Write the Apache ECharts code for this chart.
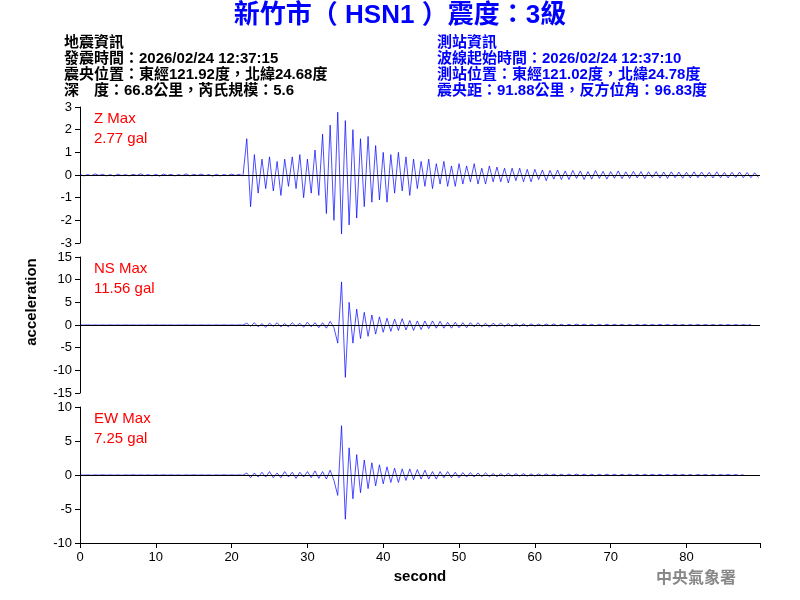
<!DOCTYPE html>
<html><head><meta charset="utf-8">
<script src="https://cdn.jsdelivr.net/npm/echarts@6/dist/echarts.min.js"></script>
<style>html,body{margin:0;background:#fff}#c{width:800px;height:600px}</style>
</head><body><div id="c"></div>
<script>
// sample step in seconds
var step = 0.5;

// Z component (gal), one value per 0.5 s
var zVals = [0.03,-0.04,0.02,-0.03,0.05,-0.02,0.03,-0.04,0.02,-0.05,0.04,-0.03,0.02,-0.04,0.03,-0.02,0.05,-0.03,0.02,-0.04,0.03,-0.05,0.04,-0.02,0.03,-0.04,0.02,-0.03,0.05,-0.04,0.03,-0.02,0.04,-0.03,0.02,-0.05,0.03,-0.04,0.02,-0.03,0.04,-0.02,0.03,-0.04,
  1.6,-1.4,0.9,-0.8,0.7,-0.6,0.8,-0.7,0.6,-0.9,0.7,-0.5,0.8,-0.6,0.9,-1.0,0.7,-0.8,1.1,-0.9,
  1.8,-1.7,2.2,-2.0,2.77,-2.6,2.4,-2.2,2.0,-1.9,
  1.6,-1.4,1.7,-1.2,1.3,-1.1,1.0,-1.2,0.9,-0.8,1.0,-0.7,0.8,-0.9,0.7,-0.6,
  0.6,-0.5,0.7,-0.6,0.5,-0.4,0.6,-0.5,0.4,-0.5,0.5,-0.4,0.4,-0.3,0.5,-0.4,0.3,-0.4,0.4,-0.3,0.35,-0.3,0.3,-0.35,0.3,-0.25,0.3,-0.3,0.25,-0.3,
  0.25,-0.2,0.22,-0.25,0.2,-0.18,0.22,-0.2,0.18,-0.2,0.2,-0.15,0.18,-0.2,0.15,-0.18,0.2,-0.15,0.16,-0.18,0.15,-0.14,0.18,-0.16,0.14,-0.15,0.16,-0.13,0.15,-0.16,0.14,-0.12,0.15,-0.14,0.13,-0.15,0.14,-0.12,0.13,-0.14,0.12,-0.13,0.14,-0.12,0.13,-0.11,0.12,-0.13,0.14,-0.12,0.11,-0.13,0.12,-0.11,0.13,-0.12,0.11,-0.12,0.1,-0.11];

// NS component
var nsVals = [0.02,-0.02,0.03,-0.02,0.02,-0.03,0.02,-0.02,0.03,-0.02,0.02,-0.02,0.03,-0.02,0.02,-0.03,0.02,-0.02,0.03,-0.02,0.02,-0.02,0.03,-0.02,0.02,-0.03,0.02,-0.02,0.03,-0.02,0.02,-0.02,0.03,-0.02,0.02,-0.03,0.02,-0.02,0.03,-0.02,0.02,-0.02,0.03,-0.02,
  0.4,-0.3,0.5,-0.4,0.3,-0.5,0.4,-0.3,0.5,-0.4,0.3,-0.4,0.5,-0.3,0.4,-0.5,0.6,-0.4,0.5,-0.6,0.5,-0.7,0.8,-0.6,
  -4.0,9.5,-11.56,5.0,
  -4.0,3.5,-3.0,2.8,-2.5,2.2,-2.0,1.8,
  -1.6,1.5,-1.4,1.3,-1.2,1.4,-1.1,1.0,-1.2,0.9,-1.0,0.9,-0.8,0.9,-0.7,0.8,-0.7,0.6,-0.7,0.6,
  -0.6,0.5,-0.6,0.5,-0.4,0.5,-0.4,0.4,-0.5,0.4,-0.3,0.4,-0.35,0.3,-0.35,0.3,-0.3,0.25,-0.3,0.25,
  -0.25,0.2,-0.22,0.2,-0.18,0.22,-0.2,0.18,-0.2,0.16,-0.18,0.2,-0.15,0.18,-0.16,0.15,-0.18,0.14,-0.15,0.16,-0.14,0.15,-0.13,0.14,-0.15,0.12,-0.14,0.13,-0.12,0.14,-0.13,0.12,-0.11,0.13,-0.12,0.11,-0.13,0.12,-0.1,0.11,-0.12,0.1,-0.11,0.12,-0.1,0.11,-0.1,0.09,-0.11,0.1,-0.09,0.1,-0.11,0.09,-0.1,0.09,-0.08,0.1];

// EW component
var ewVals = [0.02,-0.02,0.02,-0.03,0.02,-0.02,0.03,-0.02,0.02,-0.02,0.02,-0.03,0.02,-0.02,0.03,-0.02,0.02,-0.02,0.02,-0.03,0.02,-0.02,0.03,-0.02,0.02,-0.02,0.02,-0.03,0.02,-0.02,0.03,-0.02,0.02,-0.02,0.02,-0.03,0.02,-0.02,0.03,-0.02,0.02,-0.02,0.02,-0.03,
  0.3,-0.4,0.3,-0.3,0.4,-0.3,0.5,-0.4,0.3,-0.4,0.5,-0.3,0.4,-0.5,0.4,-0.3,0.5,-0.4,0.6,-0.5,0.5,-0.6,0.7,-0.8,-3.0,
  7.25,-6.5,4.0,
  -3.5,3.0,-2.6,2.2,-2.0,1.8,-1.6,1.5,
  -1.3,1.2,-1.1,1.0,-1.1,0.9,-0.8,0.9,-0.7,0.8,-0.6,0.7,-0.6,0.5,-0.6,0.5,-0.4,0.5,-0.4,0.4,
  -0.4,0.35,-0.3,0.35,-0.3,0.3,-0.25,0.3,-0.25,0.2,-0.25,0.2,-0.2,0.25,-0.2,0.2,-0.18,0.2,-0.18,0.15,
  -0.16,0.15,-0.14,0.16,-0.13,0.14,-0.15,0.12,-0.14,0.13,-0.12,0.14,-0.11,0.12,-0.13,0.11,-0.12,0.1,-0.11,0.12,-0.1,0.11,-0.12,0.1,-0.09,0.11,-0.1,0.09,-0.11,0.1,-0.09,0.1,-0.08,0.09,-0.1,0.08,-0.09,0.1,-0.08,0.09,-0.08,0.07,-0.09,0.08,-0.07,0.08,-0.09,0.07,-0.08,0.07,-0.06,0.08,-0.07,0.06,-0.08,0.07];

var labels = ['Z Max', 'NS Max', 'EW Max'];
var maxText = ['2.77 gal', '11.56 gal', '7.25 gal'];
var yLimits = [3, 15, 10];
var yIntervals = [1, 5, 5];

function toPairs(vals) {
  return vals.map(function (v, i) { return [i * step, v]; });
}

var chart = echarts.init(document.getElementById('c'));
var font = 'Arial, "Noto Sans CJK TC", sans-serif';
var tops = [107, 257, 407];
var allVals = [zVals, nsVals, ewVals];

var grids = [], xAxes = [], yAxes = [], series = [];
for (var k = 0; k < 3; k++) {
  grids.push({ left: 80, right: 40, top: tops[k], height: 136 });
  var last = k === 2;
  xAxes.push({
    type: 'value', gridIndex: k, min: 0, max: 89.7, interval: 10,
    axisLine: { show: last, onZero: false, lineStyle: { color: '#000' } },
    axisTick: { show: last, lineStyle: { color: '#000' } },
    axisLabel: { show: last, color: '#000', fontSize: 13, fontFamily: 'Arial',
      formatter: function (v) { return v > 85 ? '' : v; } },
    splitLine: { show: false },
    name: last ? 'second' : '', nameLocation: 'middle', nameGap: 26,
    nameTextStyle: { color: '#000', fontSize: 15, fontWeight: 'bold', fontFamily: 'Arial' }
  });
  yAxes.push({
    type: 'value', gridIndex: k, min: -yLimits[k], max: yLimits[k], interval: yIntervals[k],
    axisLine: { show: true, onZero: false, lineStyle: { color: '#000' } },
    axisTick: { show: true, lineStyle: { color: '#000' } },
    axisLabel: { color: '#000', fontSize: 13, fontFamily: 'Arial' },
    splitLine: { show: false }
  });
  series.push({
    type: 'line', xAxisIndex: k, yAxisIndex: k, data: toPairs(allVals[k]),
    showSymbol: false, lineStyle: { color: '#0000ff', width: 0.7 }, z: 3,
    markLine: { silent: true, symbol: 'none', label: { show: false },
      lineStyle: { color: '#000', type: 'solid', width: 1 }, data: [{ yAxis: 0 }] }
  });
}

var infoStyle = { fontSize: 15, fontWeight: 'bold', fontFamily: font, lineHeight: 16 };
var graphic = [
  { type: 'text', left: 'center', top: 3, style: { text: '新竹市（ HSN1 ）震度：3級', fill: '#0000ff', fontSize: 26, fontWeight: 'bold', fontFamily: font } },
  { type: 'text', left: 64, top: 35, style: Object.assign({ fill: '#000', text: '地震資訊\n發震時間：2026/02/24 12:37:15\n震央位置：東經121.92度，北緯24.68度\n深　度：66.8公里，芮氏規模：5.6' }, infoStyle) },
  { type: 'text', left: 437, top: 35, style: Object.assign({ fill: '#0000ff', text: '測站資訊\n波線起始時間：2026/02/24 12:37:10\n測站位置：東經121.02度，北緯24.78度\n震央距：91.88公里，反方位角：96.83度' }, infoStyle) },
  { type: 'text', x: 32, y: 302, rotation: Math.PI / 2, style: { text: 'acceleration', fill: '#000', fontSize: 15, fontWeight: 'bold', fontFamily: 'Arial', align: 'center', verticalAlign: 'middle' } },
  { type: 'text', left: 656, top: 571, style: { text: '中央氣象署', fill: '#888', fontSize: 16, fontWeight: 'bold', fontFamily: font } }
];
for (var j = 0; j < 3; j++) {
  graphic.push({ type: 'text', left: 94, top: tops[j] + 2, style: { text: labels[j] + '\n' + maxText[j], fill: '#ff0000', fontSize: 15, fontFamily: 'Arial', lineHeight: 20 } });
}

chart.setOption({
  animation: false,
  grid: grids, xAxis: xAxes, yAxis: yAxes, series: series,
  graphic: graphic
});
</script></body></html>
